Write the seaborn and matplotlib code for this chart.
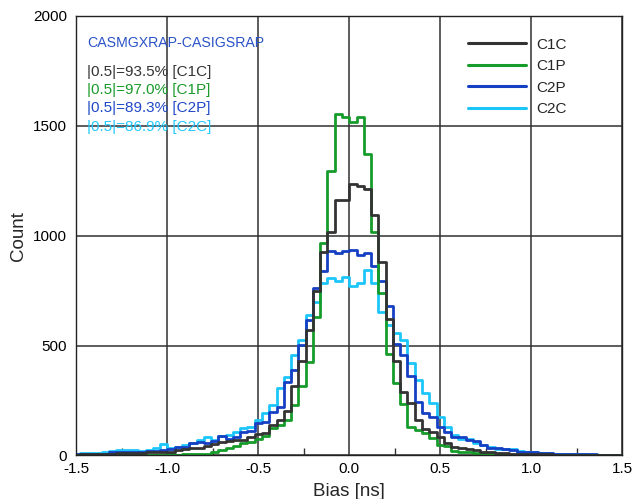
import numpy as np
import pandas as pd
import seaborn as sns
import matplotlib.pyplot as plt
from matplotlib.lines import Line2D
from matplotlib.ticker import MultipleLocator

# histogram bins, 0.04 ns wide, centred on -1.50 ... 1.50
edges = np.round(np.arange(-1.52, 1.5201, 0.04), 2)
bias = np.round((edges[:-1] + edges[1:]) / 2, 2)

signals = ["C1C", "C1P", "C2P", "C2C"]
colors = ["#333333", "#169c2a", "#1640c4", "#1cc6fa"]
text_colors = ["#333333", "#1a9a2a", "#1f48c8", "#22c8ff"]
ratios = ["93.5", "97.0", "89.3", "86.9"]
title = "CASMGXRAP-CASIGSRAP"

C1C = [4, 5, 5, 6, 6, 8, 10, 10, 13, 13, 14, 16, 17, 18, 25, 28, 32,
       36, 45, 50, 62, 66, 70, 72, 85, 98, 104, 139, 162, 204, 314, 432, 571, 750, 928, 1018, 1163,
       1163, 1235, 1226, 1211, 1094, 882, 620, 432, 291, 238, 162, 119, 109, 86, 56, 40, 33, 28, 25, 18,
       14, 12, 10, 9, 8, 7, 6, 5, 5, 4, 4, 3, 3, 3, 2, 2, 2, 1, 1]
C1P = [2, 2, 2, 3, 2, 3, 3, 3, 3, 4, 3, 4, 4, 5, 4, 5, 6,
       5, 8, 17, 25, 33, 42, 55, 60, 74, 88, 124, 139, 162, 230, 314, 427, 629, 966, 1296, 1554,
       1539, 1519, 1542, 1371, 1018, 738, 463, 329, 235, 128, 116, 101, 78, 48, 44, 20, 18, 15, 10, 8,
       6, 5, 5, 4, 4, 3, 3, 3, 2, 2, 2, 2, 1, 1, 1, 1, 1, 1, 1]
C2P = [5, 6, 7, 7, 9, 14, 15, 15, 17, 17, 22, 22, 25, 29, 40, 37, 55,
       60, 58, 66, 90, 75, 86, 108, 113, 147, 154, 200, 222, 336, 389, 503, 617, 760, 841, 932, 920,
       932, 936, 913, 923, 863, 796, 678, 508, 458, 362, 245, 192, 177, 131, 109, 86, 86, 71, 67, 48,
       35, 32, 30, 25, 18, 17, 15, 12, 10, 8, 7, 7, 6, 5, 5, 4, 3, 3, 2]
C2C = [8, 10, 13, 10, 17, 22, 25, 25, 25, 22, 25, 32, 52, 32, 40, 48, 58,
       70, 83, 70, 90, 93, 109, 124, 131, 160, 195, 230, 309, 355, 458, 526, 640, 700, 787, 807, 796,
       811, 769, 784, 844, 787, 655, 594, 559, 526, 420, 344, 283, 238, 174, 131, 93, 73, 73, 55, 48,
       40, 28, 28, 28, 20, 17, 15, 12, 10, 8, 7, 6, 6, 5, 4, 4, 3, 3, 2]

sns.set_style("white")
plt.rcParams["font.family"] = ["Liberation Sans", "DejaVu Sans"]
plt.rcParams["axes.unicode_minus"] = False

df = pd.DataFrame({
    "bias": np.tile(bias, len(signals)),
    "count": C1C + C1P + C2P + C2C,
    "signal": np.repeat(signals, len(bias)),
})

fig = plt.figure(figsize=(6.38, 4.99), dpi=100)
ax = fig.add_axes([0.1199, 0.0872, 0.855, 0.8808])

sns.histplot(data=df, x="bias", weights="count", hue="signal", hue_order=signals,
             palette=colors, bins=edges.tolist(), element="step", fill=False, lw=2,
             legend=False, ax=ax)

ax.set_xlim(-1.5, 1.5)
ax.set_ylim(0, 2000)
ax.set_xticks(np.arange(-1.5, 1.51, 0.5))
ax.set_yticks(np.arange(0, 2001, 500))
ax.xaxis.set_minor_locator(MultipleLocator(0.25))
ax.tick_params(which="major", length=0, labelsize=11, colors="black")
ax.tick_params(axis="x", which="major", pad=5)
ax.tick_params(axis="y", which="major", pad=7)
ax.tick_params(axis="x", which="minor", direction="in", length=5, width=1,
               bottom=True, color="#333333")
ax.grid(True, which="major", color="#303030", lw=1.1)
ax.set_axisbelow(True)
for sp in ax.spines.values():
    sp.set_color("#222222")
    sp.set_linewidth(1.0)

ax.set_xlabel("Bias [ns]", fontsize=13.5, labelpad=4.5)
ax.set_ylabel("Count", fontsize=13.5, labelpad=4)

ax.text(0.019, 0.9386, title, color="#2a52c8", fontsize=10.2,
        transform=ax.transAxes, va="center")
ys = [0.873, 0.831, 0.790, 0.748]
for sig, r, c, y in zip(signals, ratios, text_colors, ys):
    ax.text(0.019, y, f"|0.5|={r}% [{sig}]", color=c, fontsize=11,
            transform=ax.transAxes, va="center")

handles = [Line2D([], [], color=c, lw=2.2) for c in colors]
ax.legend(handles, signals, loc="upper left", bbox_to_anchor=(0.718, 0.951),
          frameon=False, fontsize=11, handlelength=3.8, handletextpad=0.65,
          labelspacing=0.5, borderpad=0, borderaxespad=0)

fig.savefig("out.png", dpi=100)
